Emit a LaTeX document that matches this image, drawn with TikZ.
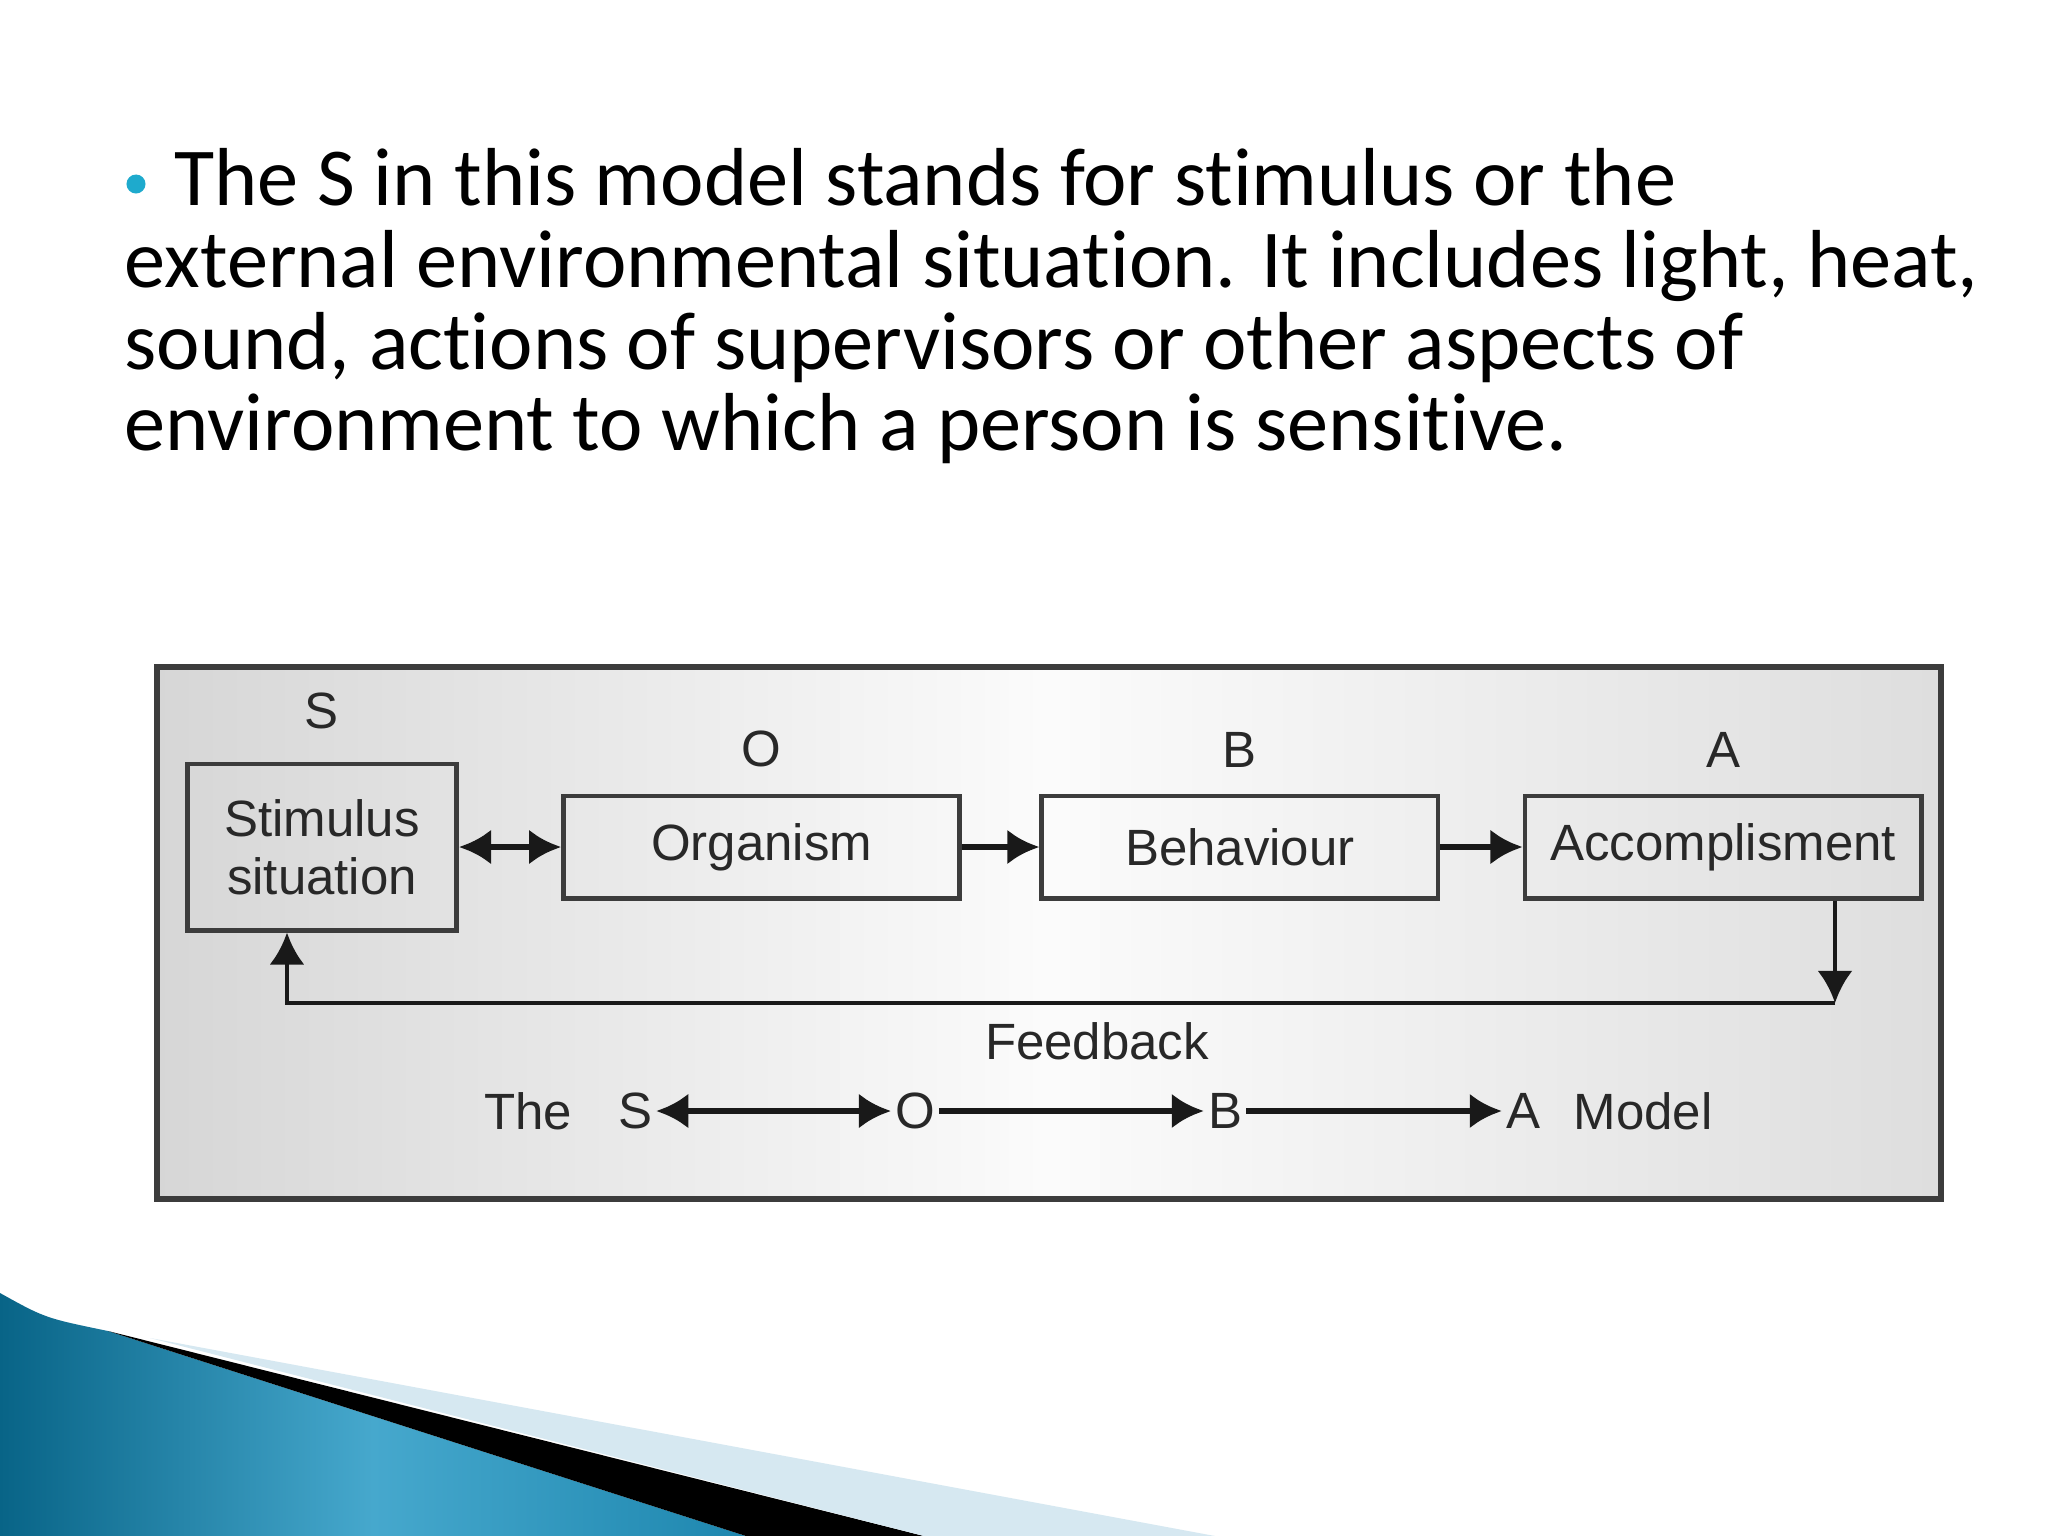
\documentclass[tikz,border=0pt]{standalone}
\usepackage{fontspec}
\setmainfont[Ligatures=NoCommon]{Carlito}
\newfontfamily\diagfont{Liberation Sans}
\usetikzlibrary{arrows.meta, positioning}
\definecolor{slidecyan}{RGB}{30,170,205}
\definecolor{boxgray}{RGB}{60,60,60}
\definecolor{textgray}{RGB}{40,40,40}
\definecolor{swooshdark}{RGB}{8,100,135}
\definecolor{swooshlight}{RGB}{70,168,205}
\definecolor{swooshmid}{RGB}{30,135,175}
\definecolor{swooshpale}{RGB}{214,232,241}

\begin{document}
\begin{tikzpicture}[x=0.01cm, y=-0.01cm,
   bodytext/.style={anchor=base west, inner sep=0pt, font=\fontsize{23.4}{28}\selectfont},
   block/.style={draw=boxgray, line width=1.4pt, minimum width=3.96cm, minimum height=1.02cm,
                 font=\diagfont\fontsize{14.5}{16.5}\selectfont, text=textgray, align=center, inner sep=2pt},
   tag/.style={font=\diagfont\fontsize{14.5}{16.5}\selectfont, text=textgray, inner sep=1pt},
   flow/.style={-{Latex[length=3.2mm, width=3.5mm]}, line width=1.8pt, black!90},
   flows/.style={{Latex[length=3.2mm, width=3.5mm]}-{Latex[length=3.2mm, width=3.5mm]}, line width=1.8pt, black!90}]

 \fill[white] (0,0) rectangle (2048,1536);
 \useasboundingbox (0,0) rectangle (2048,1536);

 \shade[left color=swooshdark, right color=swooshmid, middle color=swooshlight] (0,1293) .. controls (45,1318) .. (108,1331) -- (746,1536) -- (0,1536) -- cycle;
 \fill[black] (108,1331) -- (746,1536) -- (924,1536) -- cycle;
 \fill[swooshpale] (150,1338) -- (924,1536) -- (1215,1536) -- cycle;

 \node[circle, fill=slidecyan, inner sep=0pt, minimum size=0.19cm] (dot) at (136,184) {};
 \node[bodytext] (line1) at (174,205) {The S in this model stands for stimulus or the};
 \node[bodytext] (line2) at (124,287) {external environmental situation. It includes light, heat,};
 \node[bodytext] (line3) at (124,369) {sound, actions of supervisors or other aspects of};
 \node[bodytext] (line4) at (124,450) {environment to which a person is sensitive.};

 \draw[line width=1.6pt, draw=boxgray, left color=gray!32, right color=gray!26, middle color=gray!3] (157,667) rectangle (1941,1199);

 \node[block, minimum width=2.69cm, minimum height=1.66cm] (stim) at (322,847) {Stimulus\\situation};
 \node[block, right=1.02cm of stim] (org) {Organism};
 \node[block, right=0.77cm of org] (beh) {Behaviour};
 \node[block, right=0.82cm of beh] (acc) {Accomplisment};

 \node[tag, above=0.28cm of stim] (stimtag) {S};
 \node[tag, above=0.22cm of org] (orgtag) {O};
 \node[tag, above=0.22cm of beh] (behtag) {B};
 \node[tag, above=0.22cm of acc] (acctag) {A};

 \draw[flows] (stim) -- (org);
 \draw[flow] (org) -- (beh);
 \draw[flow] (beh) -- (acc);

 \coordinate (fbR) at (1835,1003);
 \coordinate (fbL) at (287,1003);
 \draw[flow, line width=1.4pt] (acc.south -| fbR) -- (fbR);
 \draw[flow, line width=1.4pt] (fbR) -- (fbL) -- (stim.south -| fbL);
 \node[tag] (fbtext) at (1097,1041) {Feedback};

 \node[tag] (the) at (528,1111) {The};
 \node[tag] (s) at (635,1111) {S};
 \node[tag] (o) at (915,1111) {O};
 \node[tag] (b) at (1225,1111) {B};
 \node[tag] (a) at (1523,1111) {A};
 \node[tag] (model) at (1643,1111) {Model};
 \draw[flows] (s) -- (o);
 \draw[flow] (o) -- (b);
 \draw[flow] (b) -- (a);
\end{tikzpicture}
\end{document}
